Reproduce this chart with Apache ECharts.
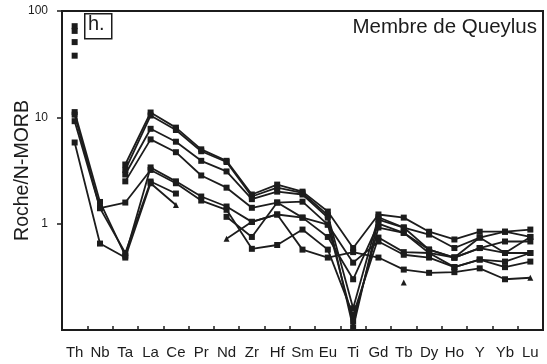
<!DOCTYPE html>
<html>
<head>
<meta charset="utf-8">
<script src="https://cdn.jsdelivr.net/npm/echarts@6/dist/echarts.min.js"></script>
<style>
  html, body { margin: 0; padding: 0; background: #fff; }
  #chart { width: 547px; height: 364px; }
</style>
</head>
<body>
<div id="chart"></div>
<script>
// Multi-element spider diagram normalised to N-MORB (log scale)
const elements = ['Th', 'Nb', 'Ta', 'La', 'Ce', 'Pr', 'Nd', 'Zr', 'Hf', 'Sm', 'Eu', 'Ti', 'Gd', 'Tb', 'Dy', 'Ho', 'Y', 'Yb', 'Lu'];
const yTickValues = [1, 10, 100];

// Samples with strongly enriched Th (Nb not analysed)
const sampleQ1 = [72, null, 3.6, 11.1, 8.0, 5.0, 3.9, 1.88, 2.33, 2.0, 1.30, 0.59, 1.22, 1.14, 0.84, 0.71, 0.84, 0.84, 0.88];
const sampleQ2 = [65, null, 3.2, 10.4, 7.6, 4.8, 3.8, 1.8, 2.18, 1.95, 1.2, 0.16, 1.15, 0.92, 0.79, 0.59, 0.74, 0.84, 0.75];
const sampleQ3 = [51, null, 2.9, 7.8, 5.9, 3.9, 3.1, 1.7, 2.0, 1.88, 1.14, 0.105, 1.09, 0.92, 0.57, 0.48, 0.59, 0.68, 0.68];
const sampleQ4 = [38, null, 2.5, 6.2, 4.7, 2.84, 2.18, 1.41, 1.58, 1.61, 0.98, 0.12, 0.92, 0.82, 0.57, 0.48, 0.74, 0.53, 0.53];
// Samples with moderate Th
const sampleQ5 = [11.2, 1.6, 0.5, 3.38, 2.5, 1.8, 1.45, 1.04, 1.22, 1.14, 0.75, 0.30, 1.0, 0.82, 0.53, 0.48, 0.59, 0.53, 0.75];
const sampleQ6 = [10.6, 1.4, 1.58, 3.2, 2.4, 1.65, 1.35, 0.58, 0.63, 0.88, 0.57, 0.138, 0.74, 0.54, 0.53, 0.39, 0.46, 0.44, 0.53];
const sampleQ7 = [9.2, 1.4, 0.53, 2.49, 1.92, null, 1.16, 0.75, 1.58, 1.14, 0.98, 0.43, 0.68, 0.51, 0.48, 0.39, 0.46, 0.39, 0.44];
const sampleQ8 = [5.8, 0.65, 0.48, 2.4, 1.5, null, 0.72, 1.04, 1.22, 0.57, 0.48, 0.54, 0.48, 0.37, 0.345, 0.35, 0.38, 0.30, 0.31];
const sampleQ9 = [null, null, null, null, null, null, null, null, null, null, null, null, null, 0.28, null, null, null, null, null];

const samples = [
  { name: 'Q1', values: sampleQ1 },
  { name: 'Q2', values: sampleQ2 },
  { name: 'Q3', values: sampleQ3 },
  { name: 'Q4', values: sampleQ4 },
  { name: 'Q5', values: sampleQ5 },
  { name: 'Q6', values: sampleQ6 },
  { name: 'Q7', values: sampleQ7 },
  { name: 'Q8', values: sampleQ8 },
  { name: 'Q9', values: sampleQ9 }
];

// Points plotted with a triangle marker instead of a square
const triangleMarks = { Q8: ['Ce', 'Nd', 'Lu'], Q9: ['Tb'] };

const ink = '#1c1c1c';
const font = 'Liberation Sans, Arial, Helvetica, sans-serif';

const chart = echarts.init(document.getElementById('chart'), null, { renderer: 'canvas' });

const series = samples.map(s => {
  const tri = triangleMarks[s.name] || [];
  return {
    name: s.name,
    type: 'line',
    data: s.values,
    connectNulls: false,
    showSymbol: true,
    symbol: (v, p) => tri.includes(elements[p.dataIndex]) ? 'triangle' : 'rect',
    symbolSize: 6,
    lineStyle: { color: ink, width: 1.8 },
    itemStyle: { color: ink, borderWidth: 0 },
    emphasis: { disabled: true },
    animation: false,
    z: 3
  };
});

chart.setOption({
  animation: false,
  backgroundColor: '#ffffff',
  grid: {
    left: 62, right: 4, top: 11, bottom: 34,
    containLabel: false,
    outerBoundsMode: 'none',
    show: true, borderColor: ink, borderWidth: 2, backgroundColor: 'transparent'
  },
  xAxis: {
    type: 'category',
    data: elements,
    boundaryGap: true,
    axisLine: { show: true, lineStyle: { color: ink, width: 2 } },
    axisTick: { show: true, inside: true, length: 4, lineStyle: { color: ink, width: 1.5 } },
    axisLabel: { color: ink, fontFamily: font, fontSize: 15, margin: 15, interval: 0 },
    splitLine: { show: false }
  },
  yAxis: {
    type: 'log',
    logBase: 10,
    min: 0.1,
    max: 100,
    name: 'Roche/N-MORB',
    nameLocation: 'middle',
    nameGap: 29,
    nameMoveOverlap: false,
    nameTextStyle: { color: ink, fontFamily: font, fontSize: 19.5 },
    axisLine: { show: true, lineStyle: { color: ink, width: 2 } },
    axisTick: { show: true, inside: false, length: 5, lineStyle: { color: ink, width: 1.5 }, customValues: yTickValues },
    axisLabel: { color: ink, fontFamily: font, fontSize: 12, margin: 14, customValues: yTickValues },
    splitLine: { show: false },
    minorTick: { show: false }
  },
  graphic: [
    {
      type: 'rect',
      left: 84, top: 13,
      shape: { width: 27, height: 25 },
      style: { fill: '#fff', stroke: ink, lineWidth: 1.5 },
      z: 10
    },
    {
      type: 'text',
      left: 88, top: 14,
      style: { text: 'h.', fill: ink, font: '20px ' + font },
      z: 11
    },
    {
      type: 'text',
      right: 10, top: 17,
      style: { text: 'Membre de Queylus', fill: ink, font: '20.5px ' + font },
      z: 11
    }
  ],
  series: series
});
</script>
</body>
</html>
